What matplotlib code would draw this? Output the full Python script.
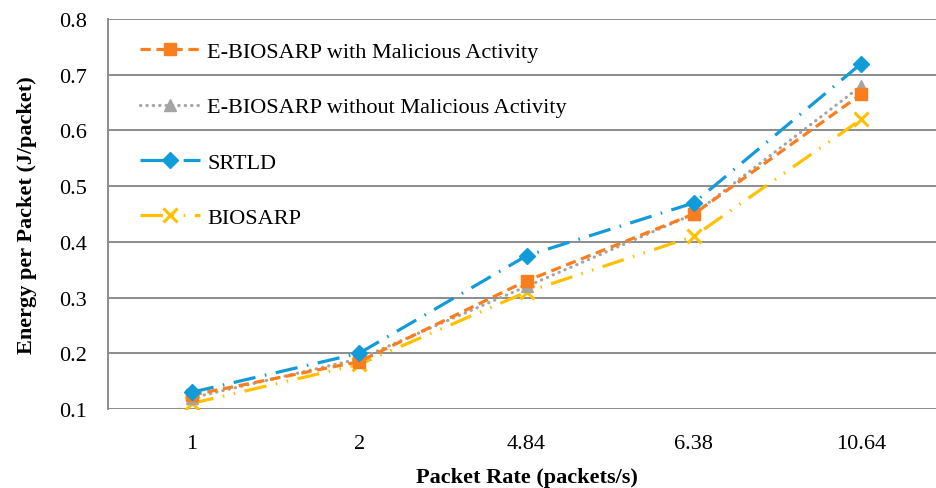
import matplotlib
matplotlib.use('Agg')
import matplotlib.pyplot as plt
import numpy as np

# -------------------------------------------------------------------------------------
# Data
packet_rate = ['1', '2', '4.84', '6.38', '10.64']
energy_ebiosarp_mal = [0.125, 0.185, 0.33, 0.45, 0.665]
energy_ebiosarp_nomal = [0.12, 0.19, 0.32, 0.45, 0.68]
energy_srtld = [0.13, 0.20, 0.375, 0.47, 0.72]
energy_biosarp = [0.11, 0.18, 0.31, 0.41, 0.62]
y_ticks = [0.1, 0.2, 0.3, 0.4, 0.5, 0.6, 0.7, 0.8]
# -------------------------------------------------------------------------------------

plt.rcParams['font.family'] = ['Liberation Serif', 'DejaVu Serif']

fig = plt.figure(figsize=(9.36, 4.89), dpi=100)
ax = fig.add_axes([108 / 936, 79 / 489, 837 / 936, 390 / 489])

x = np.arange(len(packet_rate))
lw = 2.3
fs = 16

ax.plot(x, energy_ebiosarp_mal, color='#FA7D1E', lw=lw, linestyle=(0, (3.2, 1.8)),
        marker='s', markersize=9, label='E-BIOSARP with Malicious Activity', zorder=4)
ax.plot(x, energy_ebiosarp_nomal, color='#A5A5A5', lw=lw, linestyle=(0, (0.1, 1.9)),
        dash_capstyle='round', marker='^', markersize=9,
        label='E-BIOSARP without Malicious Activity', zorder=3)
ax.plot(x, energy_srtld, color='#119BD8', lw=lw, linestyle=(0, (7, 3, 0.5, 3)),
        marker='D', markersize=8, label='SRTLD', zorder=5)
ax.plot(x, energy_biosarp, color='#FFC000', lw=lw, linestyle=(0, (7, 3, 0.5, 3, 0.5, 3)),
        marker='x', markersize=10, markeredgewidth=2.2, label='BIOSARP', zorder=2)

ax.set_xlim(-0.5, 4.5)
ax.set_ylim(0.1, 0.8)
ax.set_xticks(x)
ax.set_xticklabels(packet_rate)
ax.set_yticks(y_ticks)
ax.set_yticklabels(['%.1f' % v for v in y_ticks])
ax.tick_params(axis='both', length=0, labelsize=fs, colors='#000000')
ax.tick_params(axis='x', pad=18)
ax.tick_params(axis='y', pad=15)

ax.grid(axis='y', color='#8C8C8C', lw=1.4)
ax.set_axisbelow(True)
for side in ['top', 'right', 'bottom']:
    ax.spines[side].set_visible(False)
ax.spines['left'].set_color('#8C8C8C')
ax.spines['left'].set_linewidth(1.4)

ax.set_xlabel('Packet Rate (packets/s)', fontsize=fs, fontweight='bold', labelpad=10)
ax.set_ylabel('Energy per Packet (J/packet)', fontsize=fs, fontweight='bold', labelpad=16)

ax.legend(loc='upper left', bbox_to_anchor=(0.0196, 0.982), frameon=False, fontsize=fs,
          handlelength=2.7, handletextpad=0.32, labelspacing=1.56, numpoints=1,
          borderaxespad=0.3)

fig.savefig('out.png', dpi=100)
